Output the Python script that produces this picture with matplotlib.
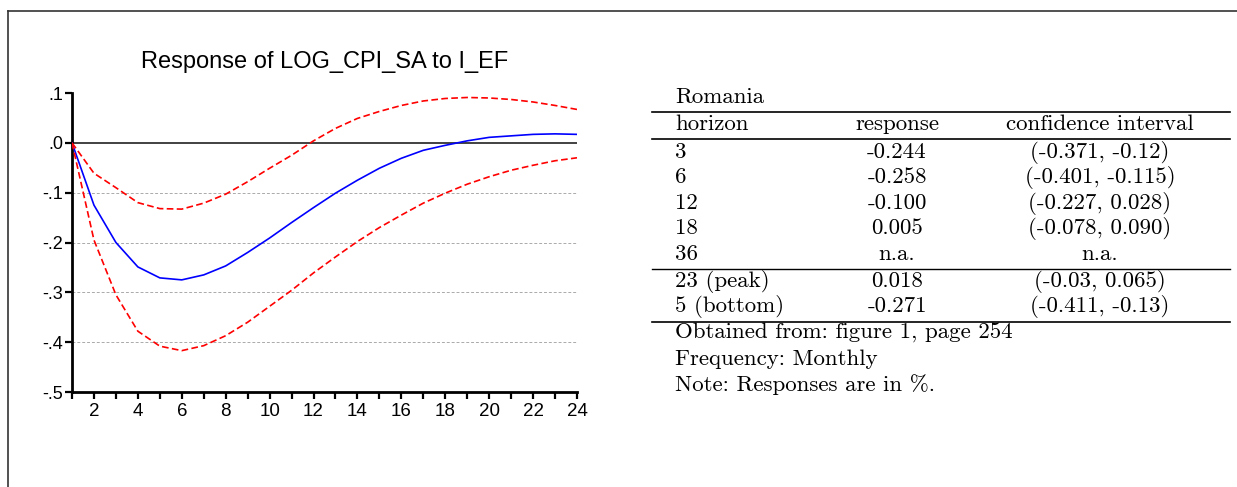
import matplotlib
matplotlib.use("Agg")
import matplotlib.pyplot as plt
from matplotlib.lines import Line2D

# impulse response
horizon = list(range(1, 25))
resp = [0.0, -0.125, -0.200, -0.249, -0.271, -0.275, -0.265, -0.247, -0.220, -0.191,
        -0.160, -0.130, -0.101, -0.075, -0.051, -0.031, -0.015, -0.005, 0.004, 0.011,
        0.014, 0.017, 0.018, 0.017]
upper = [0.0, -0.061, -0.090, -0.120, -0.132, -0.133, -0.121, -0.103, -0.078, -0.051,
         -0.025, 0.004, 0.029, 0.049, 0.063, 0.075, 0.084, 0.089, 0.091, 0.090,
         0.087, 0.082, 0.075, 0.067]
lower = [0.0, -0.195, -0.305, -0.378, -0.408, -0.417, -0.407, -0.387, -0.360, -0.328,
         -0.296, -0.261, -0.229, -0.198, -0.170, -0.145, -0.121, -0.101, -0.083, -0.068,
         -0.055, -0.045, -0.036, -0.030]
yticks = [0.1, 0.0, -0.1, -0.2, -0.3, -0.4, -0.5]
ylabels = [".1", ".0", "-.1", "-.2", "-.3", "-.4", "-.5"]

# table on the right
country = "Romania"
header = ["horizon", "response", "confidence interval"]
tab_h = ["3", "6", "12", "18", "36"]
tab_r = ["-0.244", "-0.258", "-0.100", "0.005", "n.a."]
tab_ci = ["(-0.371, -0.12)", "(-0.401, -0.115)", "(-0.227, 0.028)", "(-0.078, 0.090)", "n.a."]
ext_h = ["23 (peak)", "5 (bottom)"]
ext_r = ["0.018", "-0.271"]
ext_ci = ["(-0.03, 0.065)", "(-0.411, -0.13)"]
notes = ["Obtained from: figure 1, page 254", "Frequency: Monthly",
         "Note: Responses are in %."]

W, H = 1237, 487
fig = plt.figure(figsize=(W / 100, H / 100), dpi=100)


def fx(px):
    return px / W


def fy(py):
    return 1 - py / H


# frame of the page
fig.add_artist(Line2D([fx(8), 1], [fy(11), fy(11)], color="#333333", lw=1.2))
fig.add_artist(Line2D([fx(8), fx(8)], [fy(11), 0], color="#333333", lw=1.2))

# %% chart
ax = fig.add_axes([fx(72), fy(392), fx(577) - fx(72), fy(93) - fy(392)])
sans = "Liberation Sans"
ax.axhline(0, color="#333333", lw=1.3, zorder=1)
for g in yticks[2:-1]:
    ax.axhline(g, color="#aaaaaa", lw=0.7, ls=(0, (3, 2)), zorder=1)
ax.plot(horizon, resp, color="#0000ff", lw=1.2, zorder=3)
ax.plot(horizon, upper, color="#ff0000", lw=1.2, ls=(0, (4, 2)), zorder=3)
ax.plot(horizon, lower, color="#ff0000", lw=1.2, ls=(0, (4, 2)), zorder=3)

ax.set_xlim(1, 24)
ax.set_ylim(-0.5, 0.1)
ax.spines["top"].set_visible(False)
ax.spines["right"].set_visible(False)
ax.spines["left"].set_linewidth(2.0)
ax.spines["bottom"].set_linewidth(2.0)
ax.set_yticks(yticks)
ax.set_yticklabels(ylabels, fontfamily=sans, fontsize=13)
ax.set_xticks(range(2, 25, 2))
ax.set_xticklabels([str(v) for v in range(2, 25, 2)], fontfamily=sans, fontsize=13.5)
ax.set_xticks(range(1, 25, 2), minor=True)
ax.tick_params(axis="both", which="both", direction="out", length=5, width=1.6, pad=1.5)
ax.tick_params(axis="x", pad=3)
ax.set_title("Response of LOG_CPI_SA to I_EF", fontfamily=sans, fontsize=17, pad=18)

# %% table
serif = ["cmr10", "DejaVu Serif"]
fs = 16.5
c0, c1, c2 = 675, 897, 1100


def put(x, y, s, ha="left"):
    fig.text(fx(x), fy(y), s, ha=ha, va="baseline", fontfamily=serif, fontsize=fs)


def rule(y, lw=1.0):
    fig.add_artist(Line2D([fx(652), fx(1230)], [fy(y), fy(y)], color="black", lw=lw))


put(c0, 103, country)
rule(112, 1.2)
put(c0, 130, header[0])
put(c1, 130, header[1], "center")
put(c2, 130, header[2], "center")
rule(138.5, 1.2)
ys = [158, 183, 209, 234, 260]
for y, h, r, ci in zip(ys, tab_h, tab_r, tab_ci):
    put(c0, y, h)
    put(c1, y, r, "center")
    put(c2, y, ci, "center")
rule(268.5)
for y, h, r, ci in zip([287, 312], ext_h, ext_r, ext_ci):
    put(c0, y, h)
    put(c1, y, r, "center")
    put(c2, y, ci, "center")
rule(321.5, 1.2)
for y, s in zip([339, 365, 391], notes):
    put(c0, y, s)

fig.savefig("out.png", dpi=100)
